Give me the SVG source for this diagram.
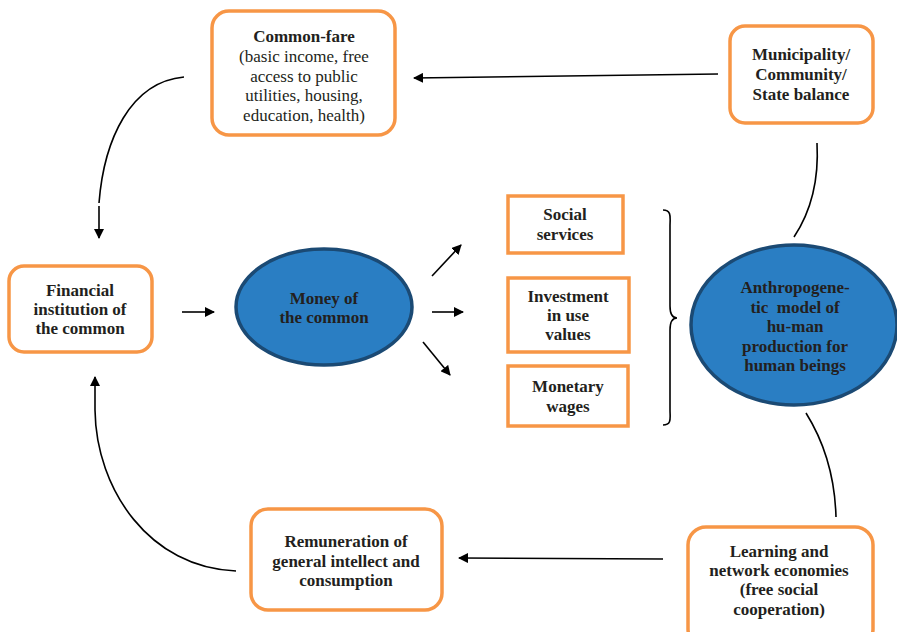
<svg xmlns="http://www.w3.org/2000/svg" width="897" height="632" viewBox="0 0 897 632">
<defs>
<style>
.box{fill:#fff;stroke:#F79646;stroke-width:3.5}
.ell{fill:#2A7EC3;stroke:#1B4A74;stroke-width:3.5}
.t{font-family:"Liberation Serif","Times New Roman",serif;font-size:17px;fill:#231F20;text-anchor:middle}
.b{font-weight:bold}
.c{fill:none;stroke:#000;stroke-width:1.6}
</style>
<marker id="ah" viewBox="0 0 10 10" refX="9" refY="5" markerWidth="10" markerHeight="10" markerUnits="userSpaceOnUse" orient="auto">
<path d="M0,0 L10,5 L0,10 z" fill="#000"/>
</marker>
</defs>
<rect width="897" height="632" fill="#fff"/>

<g id="connectors">
<line class="c" x1="718" y1="74" x2="414" y2="78" marker-end="url(#ah)"/>
<path class="c" d="M184,77 C130,82 104,140 99,203"/>
<line class="c" x1="99" y1="206" x2="99" y2="238" marker-end="url(#ah)"/>
<line class="c" x1="182" y1="312" x2="214" y2="312" marker-end="url(#ah)"/>
<line class="c" x1="432" y1="276" x2="461" y2="245" marker-end="url(#ah)"/>
<line class="c" x1="432" y1="312" x2="463" y2="312" marker-end="url(#ah)"/>
<line class="c" x1="423" y1="342" x2="450" y2="375" marker-end="url(#ah)"/>
<path class="c" d="M663,210 C672,210 670,218 670,226 L670,306 C670,314 672,318 677,318 C672,318 670,322 670,330 L670,410 C670,418 672,425 663,425"/>
<path class="c" d="M817,143 C819,180 812,210 794,237"/>
<path class="c" d="M806,413 C826,445 835,480 836,517"/>
<line class="c" x1="663" y1="559" x2="459" y2="558" marker-end="url(#ah)"/>
<path class="c" d="M236,571 C150,568 96,490 95,410 L95,377" marker-end="url(#ah)"/>
</g>

<g id="commonfare">
<rect class="box" x="212" y="11" width="183" height="124" rx="17"/>
<text class="t b" x="304" y="42">Common-fare</text>
<text class="t" x="304" y="62">(basic income, free</text>
<text class="t" x="304" y="82">access to public</text>
<text class="t" x="304" y="101">utilities, housing,</text>
<text class="t" x="304" y="121">education, health)</text>
</g>

<g id="municipality">
<rect class="box" x="730" y="26" width="143" height="97" rx="15"/>
<text class="t b" x="801" y="60">Municipality/</text>
<text class="t b" x="801" y="80">Community/</text>
<text class="t b" x="801" y="100">State balance</text>
</g>

<g id="financial">
<rect class="box" x="9" y="266" width="143" height="86" rx="15"/>
<text class="t b" x="80" y="296">Financial</text>
<text class="t b" x="80" y="315">institution of</text>
<text class="t b" x="80" y="334">the common</text>
</g>

<g id="money">
<ellipse class="ell" cx="324" cy="307" rx="88" ry="58"/>
<text class="t b" x="324" y="304">Money of</text>
<text class="t b" x="324" y="323">the common</text>
</g>

<g id="social">
<rect class="box" x="508" y="196" width="115" height="57"/>
<text class="t b" x="565" y="220">Social</text>
<text class="t b" x="565" y="240">services</text>
</g>

<g id="investment">
<rect class="box" x="508" y="278" width="121" height="74"/>
<text class="t b" x="568" y="302">Investment</text>
<text class="t b" x="568" y="321">in use</text>
<text class="t b" x="568" y="340">values</text>
</g>

<g id="wages">
<rect class="box" x="508" y="366" width="120" height="60"/>
<text class="t b" x="568" y="392">Monetary</text>
<text class="t b" x="568" y="412">wages</text>
</g>

<g id="anthropogenetic">
<ellipse class="ell" cx="794" cy="325" rx="103" ry="80"/>
<text class="t b" x="795" y="293">Anthropogene-</text>
<text class="t b" x="795" y="313" xml:space="preserve">tic  model of</text>
<text class="t b" x="795" y="332">hu-man</text>
<text class="t b" x="795" y="352">production for</text>
<text class="t b" x="795" y="371">human beings</text>
</g>

<g id="learning">
<rect class="box" x="688" y="527" width="185" height="120" rx="18"/>
<text class="t b" x="779" y="557">Learning and</text>
<text class="t b" x="779" y="576">network economies</text>
<text class="t b" x="779" y="595">(free social</text>
<text class="t b" x="779" y="615">cooperation)</text>
</g>

<g id="remuneration">
<rect class="box" x="251" y="509" width="191" height="101" rx="17"/>
<text class="t b" x="346" y="547">Remuneration of</text>
<text class="t b" x="346" y="567">general intellect and</text>
<text class="t b" x="346" y="586">consumption</text>
</g>
</svg>
